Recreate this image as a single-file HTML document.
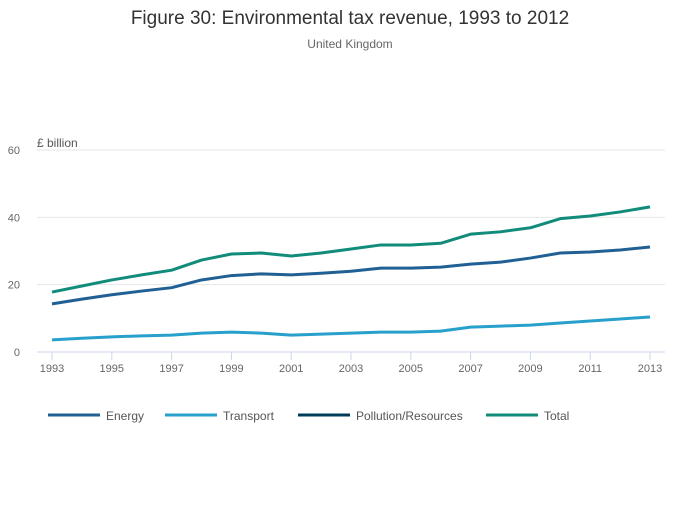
<!DOCTYPE html>
<html><head><meta charset="utf-8"><style>
body{margin:0;background:#fff;font-family:"Liberation Sans",sans-serif;}
svg text{font-family:"Liberation Sans",sans-serif;}
</style></head><body>
<svg id="chart" width="700" height="502">
<text x="350" y="24" text-anchor="middle" font-size="19" fill="#333">Figure 30: Environmental tax revenue, 1993 to 2012</text>
<text x="350" y="48" text-anchor="middle" font-size="12" fill="#666">United Kingdom</text>
<text x="37" y="147" font-size="12" fill="#555">£ billion</text>
<g id="grid"></g><g id="lines"></g><g id="legend"></g>
</svg>
<script>
const years=[1993,1994,1995,1996,1997,1998,1999,2000,2001,2002,2003,2004,2005,2006,2007,2008,2009,2010,2011,2012,2013];
const energy=[14.3,15.7,17,18.1,19.1,21.4,22.7,23.2,22.9,23.4,24,24.9,24.9,25.2,26.1,26.7,27.9,29.4,29.7,30.3,31.2];
const transport=[3.6,4.1,4.5,4.8,5,5.6,5.9,5.6,5,5.3,5.6,5.9,5.9,6.2,7.4,7.7,8,8.6,9.2,9.8,10.4];
const total=[17.8,19.6,21.4,22.9,24.3,27.3,29.1,29.4,28.5,29.4,30.6,31.8,31.8,32.3,35,35.7,36.9,39.6,40.4,41.6,43.1];
const yTicks=[0,20,40,60];
const xTicks=[1993,1995,1997,1999,2001,2003,2005,2007,2009,2011,2013];
const NS="http://www.w3.org/2000/svg";
const x=v=>52+(v-1993)*(650-52)/20;
const y=v=>352-v*(352-150)/60;
function mk(t,a,p){const e=document.createElementNS(NS,t);for(const k in a)e.setAttribute(k,a[k]);p.appendChild(e);return e;}
const g=document.getElementById('grid');
yTicks.forEach(t=>{
 const l=mk('line',{x1:37,x2:665,y1:y(t),y2:y(t),stroke:t==0?'#ccd6eb':'#e6e6e6','stroke-width':1},g);
 
 
 const tx=mk('text',{x:20,y:y(t)+4,'font-size':11,fill:'#666','text-anchor':'end'},g);tx.textContent=t;
 
 
});
xTicks.forEach(t=>{
 const l=mk('line',{x1:x(t),x2:x(t),y1:352,y2:360,stroke:'#ccd6eb'},g);
 
 
 const tx=mk('text',{x:x(t),y:372,'font-size':11,fill:'#666','text-anchor':'middle'},g);tx.textContent=t;
 
 
});
const lg=document.getElementById('lines');
[[energy,'#206095','energy-line'],[transport,'#27a0cc','transport-line'],[total,'#118c7b','total-line']].forEach(([d,c,n])=>{
 const p=mk('polyline',{points:d.map((v,i)=>x(years[i])+','+y(v)).join(' '),fill:'none',stroke:c,'stroke-width':3,'stroke-linejoin':'round'},lg);
 
 
});
const leg=document.getElementById('legend');
[['Energy','#206095',48],['Transport','#27a0cc',165],['Pollution/Resources','#003c57',298],['Total','#118c7b',486]].forEach(([t,c,lx])=>{
 const gg=mk('g',{},leg);
 
 
 mk('line',{x1:lx,x2:lx+52,y1:415,y2:415,stroke:c,'stroke-width':3},gg);
 const tx=mk('text',{x:lx+58,y:420,'font-size':12,fill:'#555'},gg);tx.textContent=t;
});
</script>
</body></html>
